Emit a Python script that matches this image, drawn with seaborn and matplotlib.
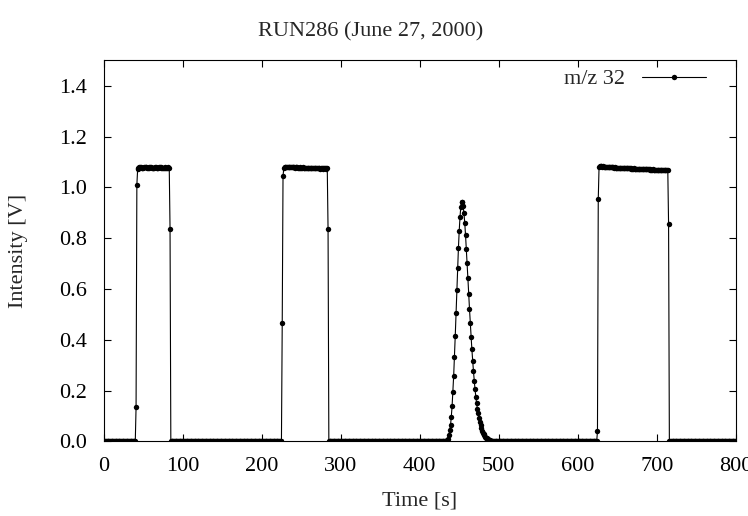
import numpy as np
import pandas as pd
import seaborn as sns
import matplotlib
matplotlib.use('Agg')
import matplotlib.pyplot as plt

baseline_runs = [41, 141, 148, 130, 85]   # number of ~0 V samples between the events

rise1 = [0.135, 1.010]
plateau1 = [1.072, 1.076, 1.079, 1.080, 1.079, 1.078, 1.077, 1.078, 1.080, 1.081,
            1.080, 1.079, 1.078, 1.077, 1.078, 1.079, 1.080, 1.079, 1.078, 1.078,
            1.077, 1.078, 1.079, 1.079, 1.078, 1.077, 1.078, 1.079, 1.080, 1.079,
            1.078, 1.077, 1.077, 1.078, 1.079, 1.078, 1.077, 1.078, 1.079, 1.078,
            1.078]
drop1 = [0.837]

rise2 = [0.468, 1.045]
plateau2 = [1.076, 1.079, 1.080, 1.081, 1.080, 1.080, 1.079, 1.080, 1.081, 1.080,
            1.079, 1.079, 1.080, 1.079, 1.078, 1.079, 1.080, 1.079, 1.078, 1.078,
            1.079, 1.078, 1.077, 1.078, 1.079, 1.078, 1.077, 1.077, 1.078, 1.077,
            1.076, 1.077, 1.078, 1.077, 1.076, 1.076, 1.077, 1.076, 1.075, 1.076,
            1.077, 1.076, 1.075, 1.075, 1.076, 1.075, 1.074, 1.075, 1.076, 1.075,
            1.074, 1.075, 1.075, 1.074, 1.075, 1.075]
drop2 = [0.835]

peak = [0.001, 0.002, 0.004, 0.010, 0.026, 0.045, 0.065, 0.098, 0.140, 0.196,
        0.259, 0.334, 0.417, 0.505, 0.596, 0.682, 0.761, 0.829, 0.883, 0.924,
        0.943, 0.944, 0.927, 0.898, 0.861, 0.813, 0.758, 0.701, 0.642, 0.580,
        0.523, 0.468, 0.413, 0.364, 0.318, 0.278, 0.239, 0.205, 0.176, 0.150,
        0.129, 0.111, 0.091, 0.076, 0.063, 0.052, 0.043, 0.035, 0.029, 0.024,
        0.019, 0.015, 0.012, 0.009, 0.007, 0.005, 0.004, 0.003, 0.002, 0.002,
        0.001, 0.001]

rise3 = [0.040, 0.955]
plateau3 = [1.080, 1.083, 1.084, 1.083, 1.082, 1.083, 1.082, 1.081, 1.082, 1.081,
            1.080, 1.081, 1.080, 1.079, 1.080, 1.079, 1.079, 1.080, 1.079, 1.078,
            1.079, 1.078, 1.077, 1.078, 1.077, 1.077, 1.078, 1.077, 1.076, 1.077,
            1.076, 1.076, 1.077, 1.076, 1.075, 1.076, 1.075, 1.075, 1.076, 1.075,
            1.074, 1.075, 1.074, 1.074, 1.075, 1.074, 1.073, 1.074, 1.073, 1.073,
            1.074, 1.073, 1.072, 1.073, 1.072, 1.072, 1.073, 1.072, 1.071, 1.072,
            1.071, 1.071, 1.072, 1.071, 1.070, 1.071, 1.070, 1.070, 1.071, 1.070,
            1.069, 1.070, 1.069, 1.069, 1.070, 1.069, 1.068, 1.069, 1.070, 1.069,
            1.068, 1.069, 1.070, 1.069, 1.068, 1.069, 1.070, 1.070]
drop3 = [0.856]

x_ticks = [0, 100, 200, 300, 400, 500, 600, 700, 800]
y_ticks = [0.0, 0.2, 0.4, 0.6, 0.8, 1.0, 1.2, 1.4]

intensity = ([0.0] * baseline_runs[0] + rise1 + plateau1 + drop1
             + [0.0] * baseline_runs[1] + rise2 + plateau2 + drop2
             + [0.0] * baseline_runs[2] + peak
             + [0.0] * baseline_runs[3] + rise3 + plateau3 + drop3
             + [0.0] * baseline_runs[4])
df = pd.DataFrame({'time': np.arange(len(intensity)), 'intensity': intensity})

sns.set_style('ticks')
plt.rcParams['font.family'] = ['Liberation Serif', 'DejaVu Serif']

FS = 16

fig, ax = plt.subplots(figsize=(7.48, 5.16), dpi=100)
fig.subplots_adjust(left=0.1386, right=0.9836, top=0.8828, bottom=0.1444)

sns.lineplot(data=df, x='time', y='intensity', ax=ax, estimator=None,
             color='black', linewidth=0.8, marker='o', markersize=3.9,
             markeredgewidth=0, label='m/z 32')

ax.set_xlim(0, 800)
ax.set_ylim(0, 1.5)
ax.set_xticks(x_ticks)
ax.set_yticks(y_ticks)
ax.set_yticklabels([f'{v:.1f}' for v in y_ticks])
ax.tick_params(direction='in', length=5, width=0.8, top=True, right=True,
               labelsize=FS, colors='black')
ax.tick_params(axis='y', pad=12)
ax.tick_params(axis='x', pad=11)
for s in ax.spines.values():
    s.set_linewidth(0.8)
    s.set_color('black')

ax.set_xlabel('Time [s]', fontsize=FS)
ax.xaxis.label.set_va('center')
ax.xaxis.set_label_coords(0.5, -0.155)
ax.set_ylabel('Intensity [V]', fontsize=FS)
ax.yaxis.label.set_va('center')
ax.yaxis.set_label_coords(-0.135, 0.5)
fig.text(0.495, 1 - 32 / 516, 'RUN286 (June 27, 2000)', ha='center', va='center',
         fontsize=FS)

ax.legend(loc='upper right', bbox_to_anchor=(0.953, 0.978), frameon=False,
          markerfirst=False, handlelength=2.9, handletextpad=0.75,
          borderpad=0, borderaxespad=0, fontsize=FS)

fig.savefig('out.png', dpi=100)
